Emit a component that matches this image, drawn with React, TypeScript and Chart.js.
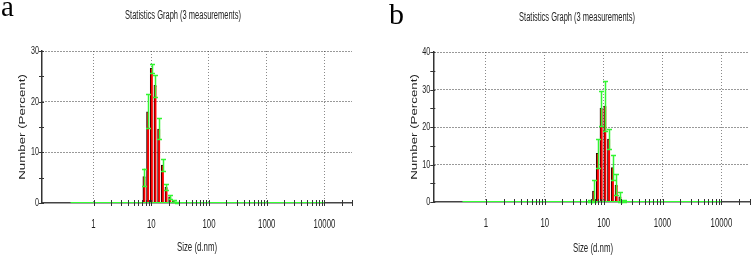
import React, { useEffect, useRef } from 'react';
import { Chart, registerables } from 'chart.js';

Chart.register(...registerables);

// ---------- Data ----------
// Panel a
const sizesA = [7.531, 8.721, 10.1, 11.7, 13.54, 15.69, 18.17, 21.04, 24.36, 28.21];
const numberA = [5.2, 18.0, 26.6, 23.2, 14.6, 7.5, 3.1, 1.2, 0.4, 0.1];
const errLowA = [3.4, 14.9, 25.7, 21.0, 12.6, 6.3, 2.6, 0.7, 0.2, 0.0];
const errHighA = [6.8, 21.5, 27.5, 25.3, 16.7, 8.6, 3.7, 1.5, 0.6, 0.2];

// Panel b
const sizesB = [58.77, 68.06, 78.82, 91.28, 105.7, 122.4, 141.8, 164.2, 190.1, 220.2];
const numberB = [0.3, 2.9, 13.0, 25.0, 25.6, 16.8, 9.2, 4.5, 1.4, 0.2];
const errLowB = [0.0, 0.0, 9.0, 20.3, 19.0, 14.1, 5.9, 1.8, 0.1, 0.0];
const errHighB = [0.6, 5.9, 16.8, 29.7, 32.2, 19.5, 12.5, 7.4, 2.7, 0.5];

// Baseline (green line along zero)
const baselineSizes = [0.4, 10000];
const baselineValues = [0, 0];

// Axes
const xMajorTicks = [1, 10, 100, 1000, 10000];
const xMinorMultipliers = [2, 3, 4, 5, 6, 7, 8, 9];
const xTailMultipliers = [2, 3];
const xMin = 0.128;
const xMax = 30000;
const yMaxA = 30;
const yMaxB = 40;
const yStep = 5;
const yLabelStep = 10;

const titleText = 'Statistics Graph (3 measurements)';
const xTitleText = 'Size (d.nm)';
const yTitleText = 'Number (Percent)';

const SANS = '"Liberation Sans", Arial, sans-serif';
const TEXT_COLOR = '#222';

function buildXTicks(): number[] {
  const out: number[] = [];
  xMajorTicks.forEach((m, i) => {
    out.push(m);
    const mults = i < xMajorTicks.length - 1 ? xMinorMultipliers : xTailMultipliers;
    mults.forEach((k) => out.push(m * k));
  });
  return out;
}

function xLabel(v: number): string {
  return xMajorTicks.includes(v) ? String(v) : '';
}
function yLabel(v: number): string {
  return v % yLabelStep === 0 ? String(v) : '';
}

function drawSquished(ctx: CanvasRenderingContext2D, text: string, x: number, y: number, sx: number, align: CanvasTextAlign) {
  ctx.save();
  ctx.translate(x, y);
  ctx.scale(sx, 1);
  ctx.textAlign = align;
  ctx.textBaseline = 'middle';
  ctx.fillText(text, 0, 0);
  ctx.restore();
}

function makePlugin(sizes: number[], lows: number[], highs: number[]) {
  return {
    id: 'errAndTicks',
    afterDatasetsDraw(chart: any) {
      const { ctx } = chart;
      const xs = chart.scales.x;
      const ys = chart.scales.y;
      ctx.save();
      // error bars
      ctx.strokeStyle = '#33f533';
      ctx.lineWidth = 1.5;
      sizes.forEach((s, i) => {
        const px = Math.round(xs.getPixelForValue(s)) + 0.5;
        const pl = ys.getPixelForValue(lows[i]);
        const ph = ys.getPixelForValue(highs[i]);
        ctx.beginPath();
        ctx.moveTo(px, pl);
        ctx.lineTo(px, ph);
        ctx.moveTo(px - 2.5, Math.round(pl) + 0.5);
        ctx.lineTo(px + 2.5, Math.round(pl) + 0.5);
        ctx.moveTo(px - 2.5, Math.round(ph) + 0.5);
        ctx.lineTo(px + 2.5, Math.round(ph) + 0.5);
        ctx.stroke();
      });
      // crossing tick marks on x axis
      ctx.strokeStyle = '#333';
      ctx.lineWidth = 1;
      const y0 = ys.getPixelForValue(0);
      xs.ticks.forEach((t: any) => {
        const px = Math.round(xs.getPixelForValue(t.value)) + 0.5;
        ctx.beginPath();
        ctx.moveTo(px, y0 - 3);
        ctx.lineTo(px, y0 + 3);
        ctx.stroke();
      });
      // crossing tick marks on y axis
      const x0 = xs.getPixelForValue(xMin);
      ys.ticks.forEach((t: any) => {
        const py = Math.round(ys.getPixelForValue(t.value)) + 0.5;
        ctx.beginPath();
        ctx.moveTo(x0 - 3, py);
        ctx.lineTo(x0 + 2, py);
        ctx.stroke();
      });
      // condensed tick labels
      ctx.fillStyle = TEXT_COLOR;
      ctx.font = `13px ${SANS}`;
      xs.ticks.forEach((t: any) => {
        const lbl = xLabel(t.value);
        if (lbl) drawSquished(ctx, lbl, xs.getPixelForValue(t.value), y0 + 21, 0.6, 'center');
      });
      ctx.font = `11px ${SANS}`;
      ys.ticks.forEach((t: any) => {
        const lbl = yLabel(t.value);
        if (lbl) drawSquished(ctx, lbl, x0 - 3, ys.getPixelForValue(t.value), 0.65, 'right');
      });
      ctx.restore();
    },
  };
}

interface PanelProps {
  sizes: number[];
  values: number[];
  lows: number[];
  highs: number[];
  yMax: number;
  left: number;
  width: number;
  padRight: number;
  padTop: number;
  yWidth: number;
  xHeight: number;
}

function Panel(p: PanelProps) {
  const ref = useRef<HTMLCanvasElement>(null);
  useEffect(() => {
    const xTicks = buildXTicks();
    const chart = new Chart(ref.current as HTMLCanvasElement, {
      type: 'bar',
      data: {
        datasets: [
          {
            type: 'line',
            data: baselineSizes.map((x, i) => ({ x, y: baselineValues[i] })),
            borderColor: '#33ff33',
            borderWidth: 2,
            pointRadius: 0,
            order: 0,
          } as any,
          {
            type: 'bar',
            data: p.sizes.map((x, i) => ({ x, y: p.values[i] })),
            backgroundColor: '#ff0000',
            borderColor: '#2a0000',
            borderWidth: { top: 1, left: 1, right: 0, bottom: 0 },
            borderSkipped: false,
            barPercentage: 1,
            categoryPercentage: 1,
            order: 1,
          } as any,
        ],
      },
      options: {
        responsive: false,
        animation: false,
        events: [],
        layout: { padding: { left: 0, right: p.padRight, top: p.padTop, bottom: 0 } },
        plugins: {
          legend: { display: false },
          tooltip: { enabled: false },
          title: { display: false },
        },
        scales: {
          x: {
            type: 'logarithmic',
            min: xMin,
            max: xMax,
            bounds: 'data',
            offset: false,
            afterBuildTicks: (scale: any) => {
              scale.ticks = xTicks.map((v) => ({ value: v, major: xMajorTicks.includes(v) }));
            },
            afterFit: (scale: any) => {
              scale.height = p.xHeight;
            },
            grid: {
              offset: false,
              drawTicks: false,
              color: (c: any) => (c.tick && xMajorTicks.includes(c.tick.value) ? '#8a8a8a' : 'rgba(0,0,0,0)'),
              lineWidth: 1,
            },
            border: { display: true, color: '#444', width: 1.5, dash: [1, 2] },
            ticks: {
              display: false,
              autoSkip: false,
              maxRotation: 0,
              callback: (v: any) => xLabel(Number(v)),
            },
            title: { display: false, text: xTitleText },
          },
          y: {
            type: 'linear',
            min: 0,
            max: p.yMax,
            afterFit: (scale: any) => {
              scale.width = p.yWidth;
            },
            grid: {
              drawTicks: false,
              color: (c: any) =>
                c.tick && c.tick.value > 0 && c.tick.value % yLabelStep === 0 ? '#333' : 'rgba(0,0,0,0)',
              lineWidth: 1,
            },
            border: { display: true, color: '#333', width: 1.5, dash: [1, 2] },
            ticks: {
              display: false,
              stepSize: yStep,
              callback: (v: any) => yLabel(Number(v)),
            },
            title: { display: false, text: yTitleText },
          },
        },
      } as any,
      plugins: [makePlugin(p.sizes, p.lows, p.highs)],
    });
    return () => chart.destroy();
  }, []);
  return (
    <canvas
      ref={ref}
      width={p.width}
      height={258}
      style={{ position: 'absolute', left: p.left, top: 0, width: p.width, height: 258 }}
    />
  );
}

function SquishedText(props: { text: string; cx: number; cy: number; size: number; sx: number; rotate?: boolean }) {
  const tf = props.rotate
    ? `translate(-50%, -50%) scaleX(${props.sx}) rotate(-90deg)`
    : `translate(-50%, -50%) scaleX(${props.sx})`;
  return (
    <div
      style={{
        position: 'absolute',
        left: props.cx,
        top: props.cy,
        transform: tf,
        fontFamily: SANS,
        fontSize: props.size,
        lineHeight: 1,
        whiteSpace: 'nowrap',
        color: TEXT_COLOR,
      }}
    >
      {props.text}
    </div>
  );
}

export default function App() {
  return (
    <div
      style={{
        position: 'fixed',
        left: 0,
        top: 0,
        width: 753,
        height: 258,
        background: '#fff',
        overflow: 'hidden',
      }}
    >
      <Panel
        sizes={sizesA}
        values={numberA}
        lows={errLowA}
        highs={errHighA}
        yMax={yMaxA}
        left={0}
        width={376}
        padRight={24}
        padTop={51}
        yWidth={42}
        xHeight={55}
      />
      <Panel
        sizes={sizesB}
        values={numberB}
        lows={errLowB}
        highs={errHighB}
        yMax={yMaxB}
        left={380}
        width={373}
        padRight={3.5}
        padTop={52}
        yWidth={53.3}
        xHeight={56}
      />
      <SquishedText text={titleText} cx={182.7} cy={15} size={12.5} sx={0.6} />
      <SquishedText text={titleText} cx={576.7} cy={16.7} size={12.5} sx={0.6} />
      <SquishedText text={xTitleText} cx={197.3} cy={247} size={13.5} sx={0.58} />
      <SquishedText text={xTitleText} cx={592.5} cy={247.5} size={13.5} sx={0.58} />
      <SquishedText text={yTitleText} cx={22.4} cy={127} size={13.3} sx={0.7} rotate />
      <SquishedText text={yTitleText} cx={414} cy={127} size={13.3} sx={0.7} rotate />
      <div
        style={{
          position: 'absolute',
          left: 1,
          top: -8,
          fontFamily: '"Liberation Serif", "DejaVu Serif", serif',
          fontSize: 29,
          lineHeight: 1,
          color: '#000',
        }}
      >
        a
      </div>
      <div
        style={{
          position: 'absolute',
          left: 389,
          top: -1.5,
          fontFamily: '"Liberation Serif", "DejaVu Serif", serif',
          fontSize: 30,
          lineHeight: 1,
          color: '#000',
        }}
      >
        b
      </div>
    </div>
  );
}
